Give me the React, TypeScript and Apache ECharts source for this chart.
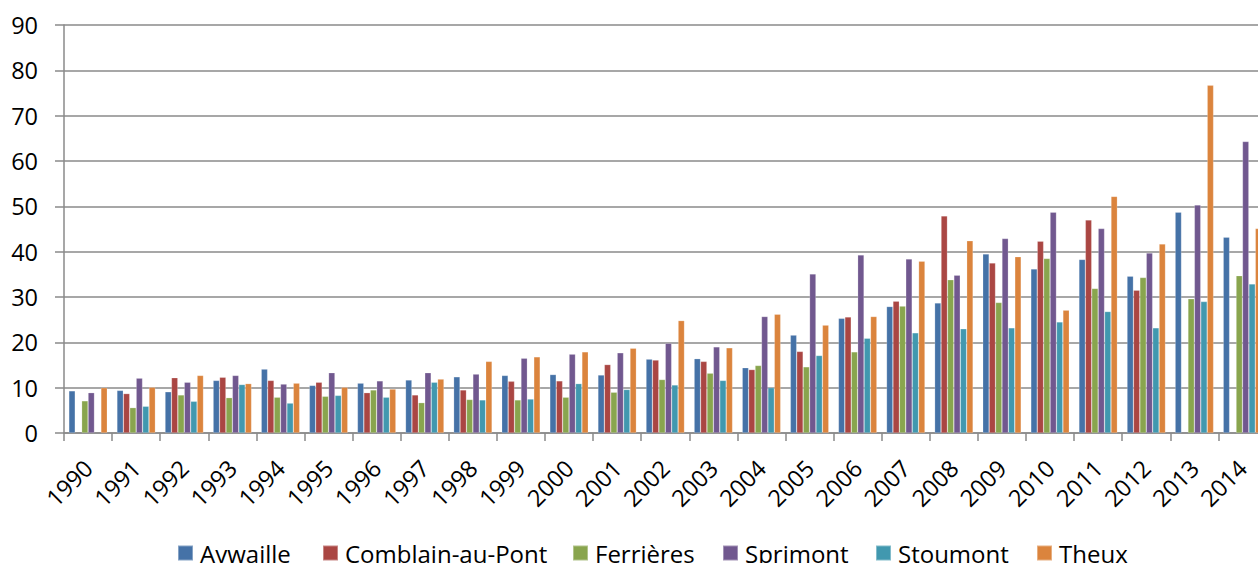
import React, { useEffect, useRef } from "react";
import * as echarts from "echarts";

const years = ["1990","1991","1992","1993","1994","1995","1996","1997","1998","1999","2000","2001","2002","2003","2004","2005","2006","2007","2008","2009","2010","2011","2012","2013","2014"];
const aywaille = [9.3, 9.4, 9.1, 11.6, 14.1, 10.5, 11.0, 11.7, 12.4, 12.7, 12.9, 12.8, 16.3, 16.4, 14.4, 21.6, 25.3, 27.9, 28.7, 39.5, 36.2, 38.3, 34.6, 48.7, 43.2];
const comblain = [null, 8.7, 12.2, 12.3, 11.6, 11.2, 8.9, 8.4, 9.5, 11.4, 11.5, 15.1, 16.1, 15.8, 14.0, 18.0, 25.6, 29.1, 47.9, 37.5, 42.3, 47.0, 31.5, null, null];
const ferrieres = [7.1, 5.6, 8.4, 7.8, 7.9, 8.1, 9.5, 6.7, 7.4, 7.3, 7.9, 9.0, 11.8, 13.2, 14.9, 14.6, 17.9, 28.0, 33.8, 28.8, 38.5, 31.9, 34.3, 29.6, 34.7];
const sprimont = [8.9, 12.1, 11.2, 12.7, 10.8, 13.3, 11.5, 13.3, 13.0, 16.5, 17.4, 17.7, 19.8, 19.0, 25.7, 35.1, 39.3, 38.4, 34.8, 42.9, 48.7, 45.1, 39.7, 50.3, 64.3];
const stoumont = [null, 5.9, 7.0, 10.7, 6.6, 8.3, 7.9, 11.2, 7.3, 7.5, 10.9, 9.6, 10.6, 11.6, 10.0, 17.1, 20.9, 22.1, 23.0, 23.2, 24.5, 26.8, 23.2, 29.0, 32.9];
const theux = [10.0, 10.1, 12.7, 10.9, 11.0, 10.1, 9.7, 11.9, 15.8, 16.8, 17.9, 18.7, 24.8, 18.8, 26.2, 23.8, 25.7, 37.9, 42.4, 38.9, 27.1, 52.2, 41.7, 76.7, 45.1];

const seriesNames = ["Aywaille", "Comblain-au-Pont", "Ferrières", "Sprimont", "Stoumont", "Theux"];
const seriesData = [aywaille, comblain, ferrieres, sprimont, stoumont, theux];
const colors = ["#4572A7", "#AA4643", "#89A54E", "#71588F", "#4198AF", "#DB843D"];
const legendLeft = [177, 322, 572, 722, 875, 1036];

const FONT = "'Open Sans', sans-serif";
const GRID_COLOR = "#8a8a8a";

export default function App() {
  const ref = useRef<HTMLDivElement>(null);
  useEffect(() => {
    if (!ref.current) return;
    const chart = echarts.init(ref.current, null, { renderer: "svg" });
    chart.setOption({
      animation: false,
      color: colors,
      textStyle: { fontFamily: FONT, color: "#000" },
      grid: { left: 64, top: 25, width: 1202.5, height: 408, containLabel: false },
      legend: seriesNames.map((n, i) => ({
        data: [n],
        left: legendLeft[i],
        top: 541,
        padding: 0,
        icon: "rect",
        itemWidth: 15,
        itemHeight: 15,
        textStyle: { fontFamily: FONT, fontSize: 24, lineHeight: 24, color: "#000", padding: [0, 0, 0, 2] },
      })),
      xAxis: {
        type: "category",
        data: years,
        axisLine: { show: true, lineStyle: { color: GRID_COLOR, width: 1.5 } },
        axisTick: { show: true, length: 8, lineStyle: { color: GRID_COLOR, width: 1.5 } },
        axisLabel: { interval: 0, rotate: 45, fontSize: 23.5, margin: 31, color: "#000", fontFamily: FONT },
      },
      yAxis: {
        type: "value",
        min: 0,
        max: 90,
        interval: 10,
        axisLine: { show: true, lineStyle: { color: GRID_COLOR, width: 1.5 } },
        axisTick: { show: true, length: 9, lineStyle: { color: GRID_COLOR, width: 1.5 } },
        axisLabel: { fontSize: 23.5, margin: 26, color: "#000", fontFamily: FONT },
        splitLine: { show: true, lineStyle: { color: GRID_COLOR, width: 1.5 } },
      },
      series: seriesNames.map((n, i) => ({
        name: n,
        type: "bar",
        data: seriesData[i],
        barGap: "0%",
        barCategoryGap: "20%",
        itemStyle: { color: colors[i], borderColor: "rgba(255,255,255,0.35)", borderWidth: 0.6 },
      })),
    });
    return () => chart.dispose();
  }, []);
  return (
    <div style={{ position: "fixed", left: 0, top: 0, width: 1258, height: 563, overflow: "hidden", background: "#fff" }}>
      <div ref={ref} style={{ width: 1290, height: 563 }} />
    </div>
  );
}
